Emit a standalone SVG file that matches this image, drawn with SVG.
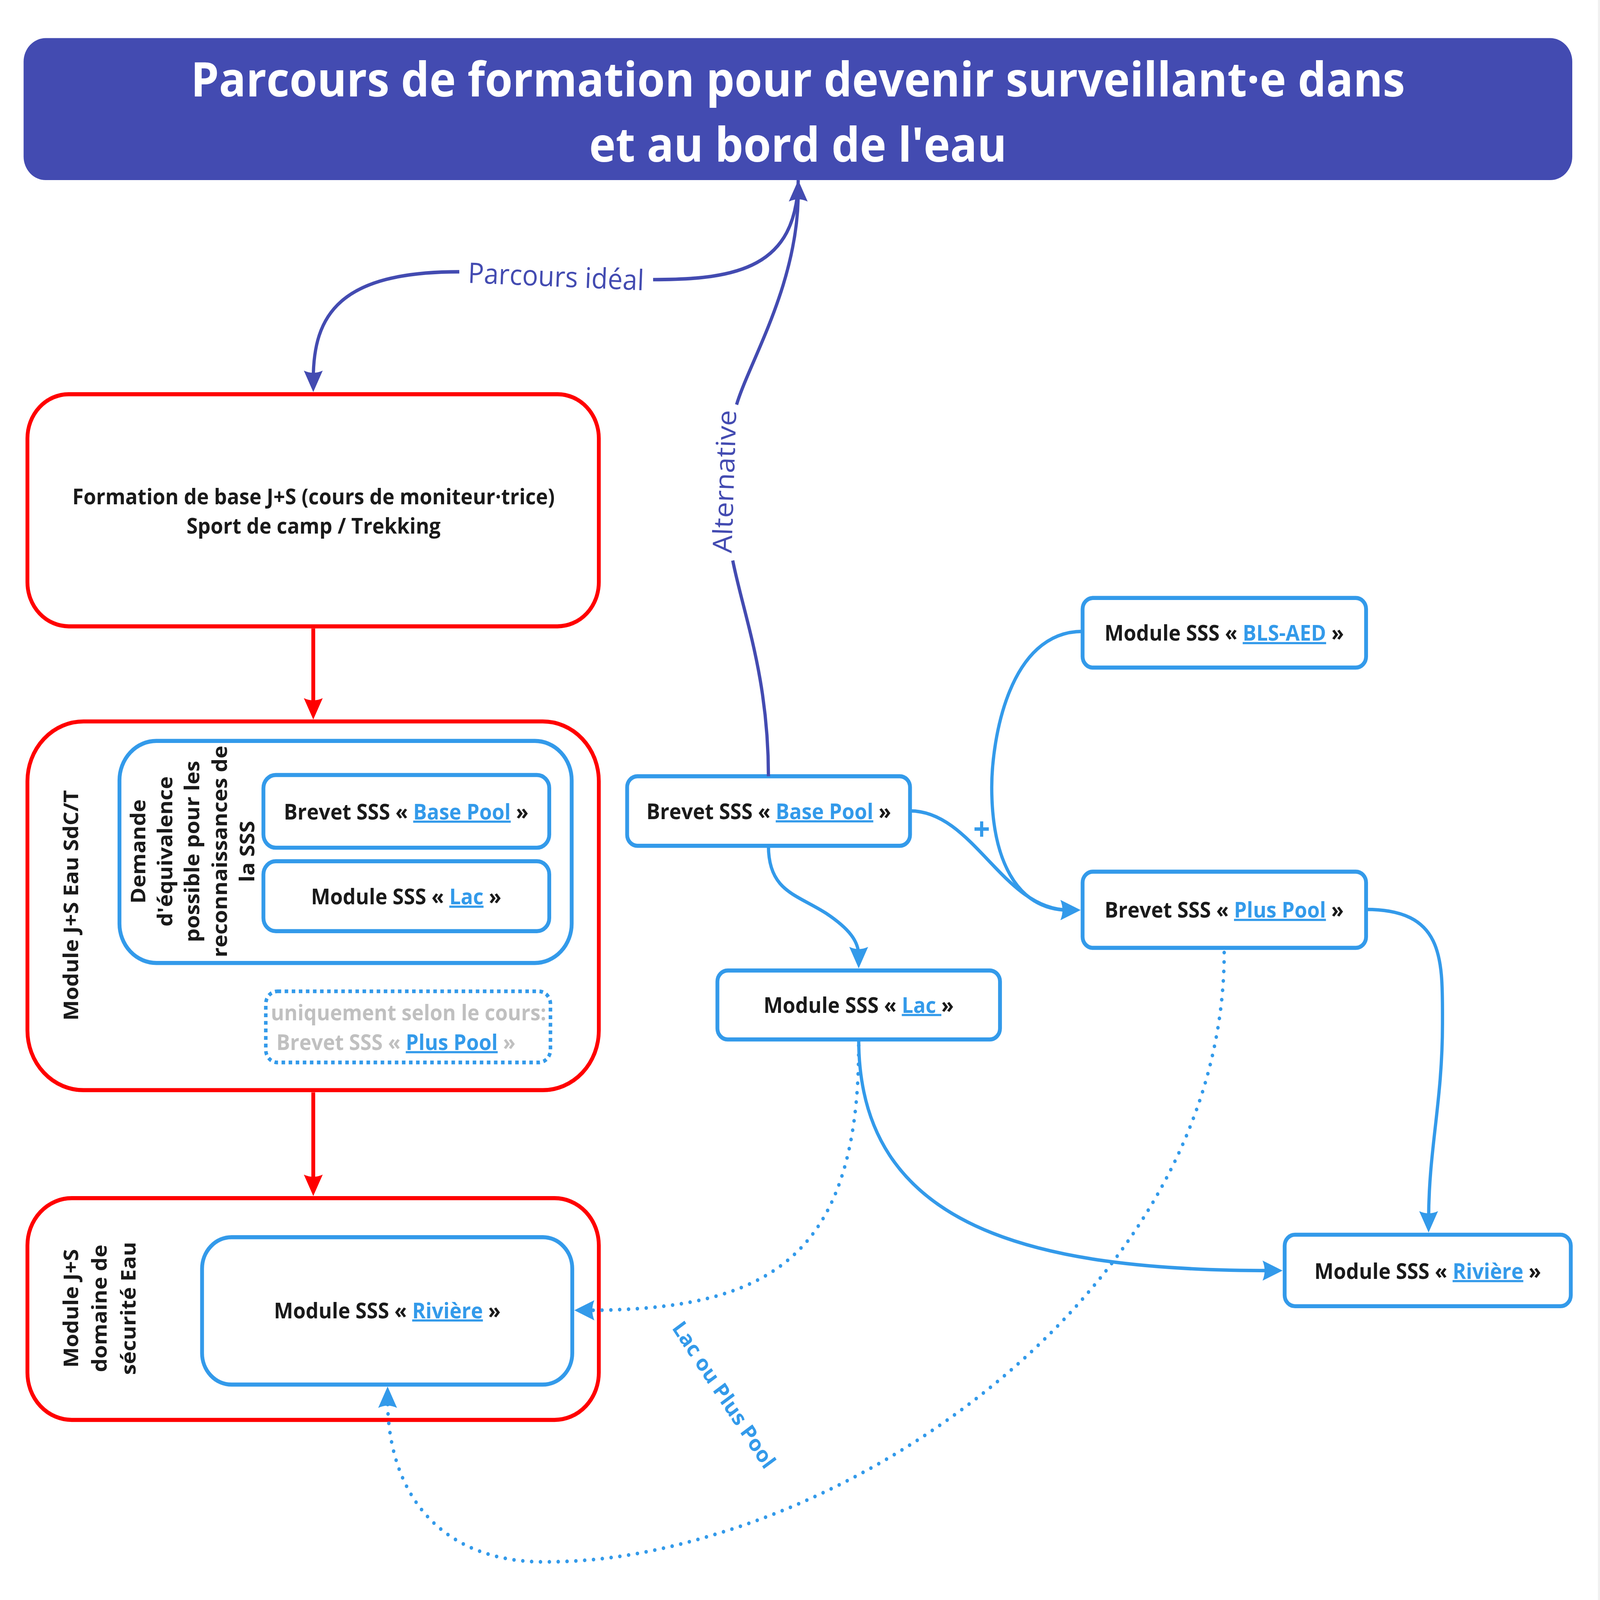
<svg xmlns="http://www.w3.org/2000/svg" width="5424" height="5081" viewBox="0 0 5424 5081" preserveAspectRatio="none">
<style>
svg{width:100vw;height:100vh}
.t{font-family:"Open Sans","Liberation Sans",sans-serif;font-weight:700;font-size:69px;fill:#1A1A1A;text-anchor:middle}
.lk{fill:#339AEA;text-decoration:underline}
.gr{fill:#C0C0C0}
.ttl{font-family:"Open Sans","Liberation Sans",sans-serif;font-weight:700;font-size:152px;fill:#FFFFFF;text-anchor:middle}
.lbl{font-family:"Open Sans","Liberation Sans",sans-serif;font-weight:400;font-size:90px;fill:#434BB1;text-anchor:middle}
.rb{fill:#FFFFFF;stroke:#FF0000;stroke-width:13}
.bb{fill:#FFFFFF;stroke:#339AEA;stroke-width:13}
.db{fill:none;stroke:#339AEA;stroke-width:12;stroke-dasharray:12 12}
.c{fill:none;stroke-width:11}
.cb{stroke:#339AEA}
.ci{stroke:#434BB1}
.cr{stroke:#FF0000;stroke-width:13}
.dot{stroke-dasharray:0 30;stroke-linecap:round;stroke-width:12}
</style>
<defs>
<marker id="mb" markerUnits="userSpaceOnUse" markerWidth="200" markerHeight="200" refX="0" refY="0" orient="auto" overflow="visible"><path d="M40,0 L-28,-32 Q-14,0 -28,32 Z" fill="#339AEA"/></marker>
<marker id="mi" markerUnits="userSpaceOnUse" markerWidth="200" markerHeight="200" refX="0" refY="0" orient="auto" overflow="visible"><path d="M40,0 L-28,-32 Q-14,0 -28,32 Z" fill="#434BB1"/></marker>
<marker id="mr" markerUnits="userSpaceOnUse" markerWidth="200" markerHeight="200" refX="0" refY="0" orient="auto" overflow="visible"><path d="M40,0 L-28,-32 Q-14,0 -28,32 Z" fill="#FF0000"/></marker>
</defs>
<rect width="5424" height="5081" fill="#FFFFFF"/>
<rect x="5417" y="0" width="7" height="5081" fill="#F0F0F0"/>

<g id="title">
<rect x="80" y="121" width="5250" height="451" rx="75" fill="#434BB1"/>
<text class="ttl" x="2705" y="306">Parcours de formation pour devenir surveillant·e dans</text>
<text class="ttl" x="2705" y="514">et au bord de l'eau</text>
</g>

<g id="formation-base">
<rect class="rb" x="93" y="1252" width="1937" height="737" rx="140"/>
<text class="t" x="1063" y="1601">Formation de base J+S (cours de moniteur·trice)</text>
<text class="t" x="1063" y="1695">Sport de camp / Trekking</text>
</g>

<g id="module-js-eau">
<rect class="rb" x="93" y="2291" width="1937" height="1171" rx="190"/>
<text class="t" transform="translate(265,2875) rotate(-90)">Module J+S Eau SdC/T</text>
</g>

<g id="demande-equivalence">
<rect class="bb" x="405" y="2353" width="1533" height="705" rx="125"/>
<g transform="translate(492,2704) rotate(-90)">
<text class="t" x="0" y="0">Demande</text>
<text class="t" x="0" y="92">d'équivalence</text>
<text class="t" x="0" y="184">possible pour les</text>
<text class="t" x="0" y="278">reconnaissances de</text>
<text class="t" x="0" y="370">la SSS</text>
</g>
</g>

<g id="brevet-base-pool-left">
<rect class="bb" x="893" y="2461" width="969" height="231" rx="42"/>
<text class="t" x="1377" y="2602">Brevet SSS « <tspan class="lk">Base Pool</tspan> »</text>
</g>

<g id="module-lac-left">
<rect class="bb" x="893" y="2735" width="969" height="222" rx="42"/>
<text class="t" x="1377" y="2872">Module SSS « <tspan class="lk">Lac</tspan> »</text>
</g>

<g id="option-plus-pool">
<rect class="db" x="901" y="3148" width="965" height="226" rx="40"/>
<text class="t gr" x="1385" y="3240">uniquement selon le cours:</text>
<text class="t gr" x="937" y="3334" style="text-anchor:start">Brevet SSS « <tspan class="lk">Plus Pool</tspan> »</text>
</g>

<g id="module-js-securite">
<rect class="rb" x="93" y="3805" width="1937" height="704" rx="150"/>
<g transform="translate(265,4155) rotate(-90)">
<text class="t" x="0" y="0">Module J+S</text>
<text class="t" x="0" y="97">domaine de</text>
<text class="t" x="0" y="195">sécurité Eau</text>
</g>
</g>

<g id="module-riviere-left">
<rect class="bb" x="685" y="3929" width="1255" height="468" rx="100"/>
<text class="t" x="1313" y="4186">Module SSS « <tspan class="lk">Rivière</tspan> »</text>
</g>

<g id="brevet-base-pool-right">
<rect class="bb" x="2126" y="2465" width="959" height="221" rx="35"/>
<text class="t" x="2606" y="2601">Brevet SSS « <tspan class="lk">Base Pool</tspan> »</text>
</g>

<g id="module-bls-aed">
<rect class="bb" x="3670" y="1899" width="961" height="221" rx="35"/>
<text class="t" x="4150" y="2035">Module SSS « <tspan class="lk">BLS-AED</tspan> »</text>
</g>

<g id="brevet-plus-pool">
<rect class="bb" x="3670" y="2768" width="961" height="242" rx="35"/>
<text class="t" x="4150" y="2914">Brevet SSS « <tspan class="lk">Plus Pool</tspan> »</text>
</g>

<g id="module-lac-right">
<rect class="bb" x="2432" y="3082" width="958" height="219" rx="35"/>
<text class="t" x="2911" y="3216">Module SSS « <tspan class="lk">Lac </tspan>»</text>
</g>

<g id="module-riviere-right">
<rect class="bb" x="4355" y="3921" width="970" height="227" rx="35"/>
<text class="t" x="4840" y="4061">Module SSS « <tspan class="lk">Rivière</tspan> »</text>
</g>

<g id="connectors">
<path class="c cr" d="M1062 1996 L1062 2245" marker-end="url(#mr)"/>
<path class="c cr" d="M1062 3469 L1062 3758" marker-end="url(#mr)"/>

<path class="c ci" d="M2706 572 C2700 850 2500 888 2214 888"/>
<path class="c ci" d="M1557 863 C1150 863 1062 1000 1062 1205" marker-end="url(#mi)"/>
<text class="lbl" transform="translate(1885,878) rotate(2.3)" y="32">Parcours idéal</text>

<path class="c ci" d="M2605 2465 C2605 2150 2520 1950 2484 1780"/>
<path class="c ci" d="M2497 1285 C2540 1150 2706 900 2706 612" marker-end="url(#mi)"/>
<text class="lbl" transform="translate(2456,1529) rotate(-88)" y="32">Alternative</text>

<path class="c cb" d="M2605 2686 C2605 2830 2700 2840 2800 2900 C2880 2950 2911 2990 2911 3035" marker-end="url(#mb)"/>
<path class="c cb" d="M3085 2575 C3300 2575 3400 2890 3623 2890" marker-end="url(#mb)"/>
<text class="t" x="3328" y="2668" style="fill:#339AEA;font-size:100px">+</text>
<path class="c cb" d="M3670 2005 C3420 2005 3362 2350 3362 2500 C3362 2720 3440 2890 3623 2890" marker-end="url(#mb)"/>
<path class="c cb" d="M4631 2888 C4900 2888 4890 3050 4890 3250 C4890 3500 4843 3650 4843 3874" marker-end="url(#mb)"/>
<path class="c cb" d="M2911 3301 C2911 3900 3500 4035 4308 4035" marker-end="url(#mb)"/>
<path class="c cb dot" d="M2911 3320 C2911 4000 2600 4161 1987 4161" marker-end="url(#mb)"/>
<text class="t" transform="translate(2455,4429) rotate(55)" y="25" style="fill:#339AEA">Lac ou Plus Pool</text>
<path class="c cb dot" d="M4150 3025 C4150 3900 3300 4600 2500 4850 C2250 4928 2050 4960 1843 4960 C1500 4960 1314 4750 1314 4443" marker-end="url(#mb)"/>
</g>
</svg>
